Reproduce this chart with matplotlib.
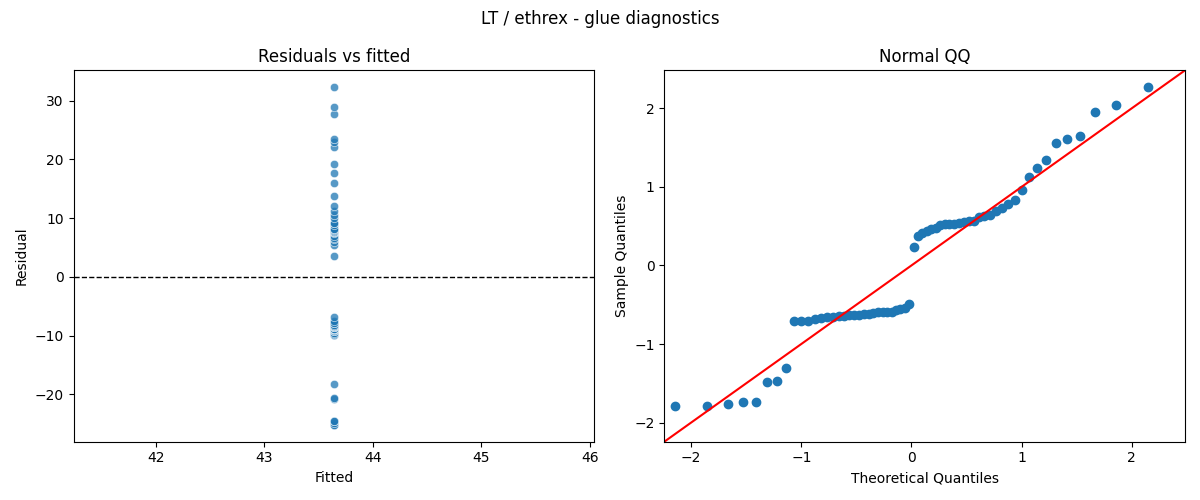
import numpy as np
import matplotlib
matplotlib.use("Agg")
import matplotlib.pyplot as plt
import seaborn as sns
from statistics import NormalDist

# fitted value of the intercept-only model (same for every row)
fitted_value = 43.64

# residuals, sorted
residuals = [
    -25.2, -25.2, -24.9, -24.5, -24.5, -20.8, -20.7, -18.3,
    -9.9, -9.9, -9.8, -9.5, -9.3, -9.2, -9.1, -8.9, -8.9, -8.8, -8.8, -8.8,
    -8.6, -8.6, -8.5, -8.3, -8.3, -8.3, -8.2, -7.9, -7.8, -7.5, -6.9,
    3.5, 5.5, 5.9, 6.4, 6.7, 6.9, 7.4, 7.6, 7.6, 7.6, 7.8, 7.9, 8.1, 8.2,
    8.8, 9.1, 9.2, 10.0, 10.5, 11.2, 12.0, 13.7, 16.0, 17.7, 19.2,
    22.2, 22.9, 23.5, 27.7, 29.0, 32.3,
]

# scale used for the standardised residuals in the QQ panel
resid_scale = 14.15

qq_lims = [-2.244, 2.484]

resid = np.array(residuals)
fitted = np.full(len(resid), fitted_value)

fig, (ax1, ax2) = plt.subplots(1, 2, figsize=(12, 5), dpi=100)

#---------------------------------#
#   residuals vs fitted
#---------------------------------#
sns.scatterplot(x=fitted, y=resid, alpha=0.75, ax=ax1)
ax1.axhline(0, color="black", linestyle="--", linewidth=1)
ax1.set_title("Residuals vs fitted")
ax1.set_xlabel("Fitted")
ax1.set_ylabel("Residual")

#---------------------------------#
#   normal QQ (standardised residuals)
#---------------------------------#
n = len(resid)
sample_q = np.sort((resid - resid.mean()) / resid_scale)
theo_q = np.array([NormalDist().inv_cdf(i / (n + 1)) for i in range(1, n + 1)])
ax2.plot(theo_q, sample_q, marker="o", linestyle="none", color="C0")
ax2.plot(qq_lims, qq_lims, "r-")
ax2.set_xlim(qq_lims)
ax2.set_ylim(qq_lims)
ax2.set_title("Normal QQ")
ax2.set_xlabel("Theoretical Quantiles")
ax2.set_ylabel("Sample Quantiles")

fig.suptitle("LT / ethrex - glue diagnostics")
fig.tight_layout()
fig.savefig("out.png")
